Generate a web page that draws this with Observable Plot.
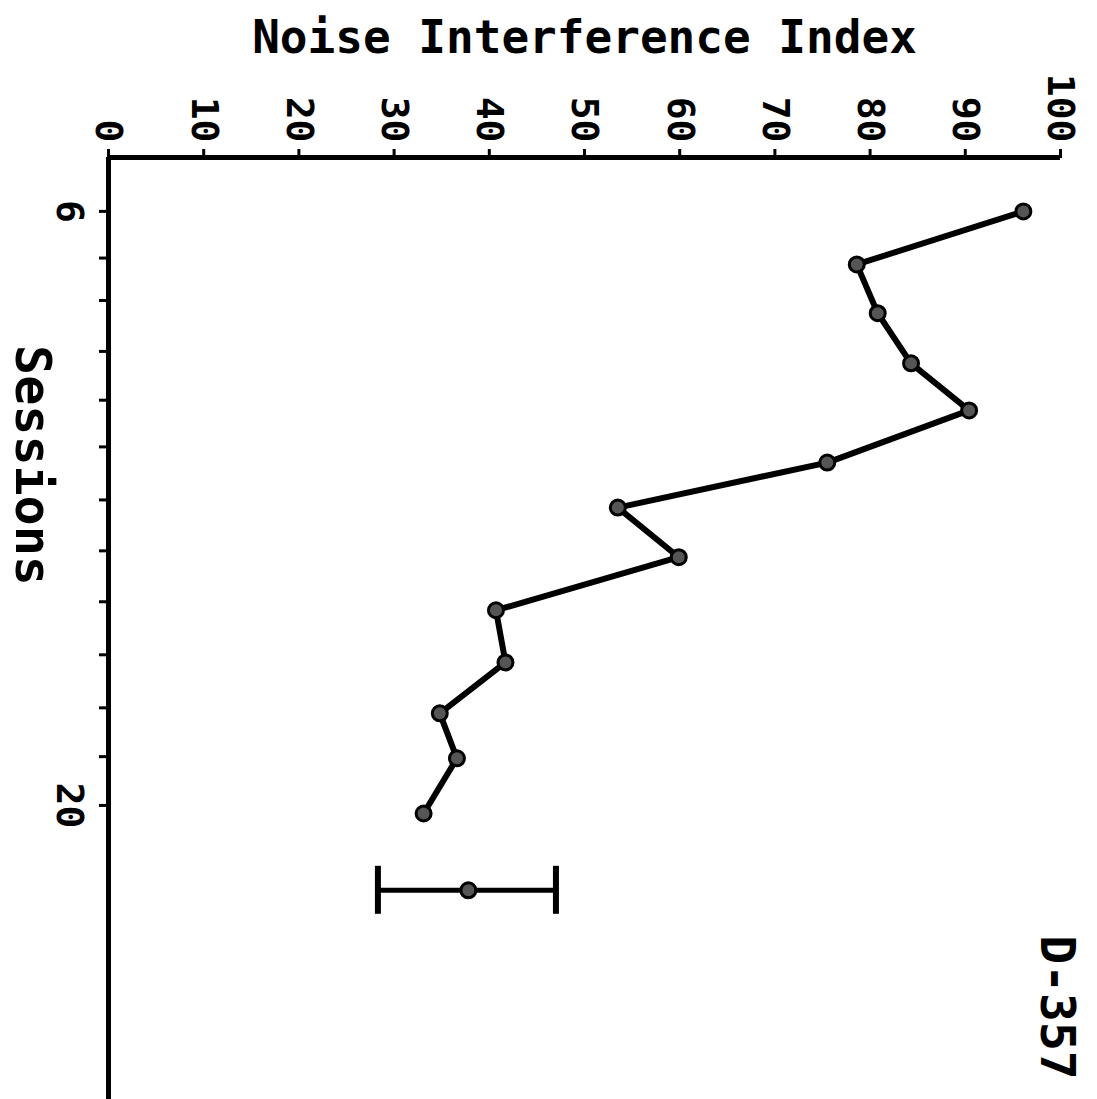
<!DOCTYPE html>
<html><head><meta charset="utf-8">
<script src="https://cdn.jsdelivr.net/npm/d3@7"></script>
<script src="https://cdn.jsdelivr.net/npm/@observablehq/plot@0.6"></script>
<style>body{margin:0;background:#fff} svg{display:block}</style>
</head><body><div id="chart"></div>
<script>
// Data read from the (rotated) reference
const sessions   = [6, 7.25, 8.4, 9.58, 10.69, 11.92, 12.98, 14.15, 15.4, 16.63, 17.83, 18.89, 20.19];
const noiseIndex = [96.1, 78.6, 80.8, 84.3, 90.4, 75.5, 53.5, 59.9, 40.7, 41.7, 34.8, 36.6, 33.1];
const sessionTicks = [6, 7.1, 8.1, 9.3, 10.45, 11.55, 12.8, 14.0, 15.2, 16.45, 17.7, 18.85, 20];
const sessionTickLabels = {6: "6", 20: "20"};
const indexTicks = [0, 10, 20, 30, 40, 50, 60, 70, 80, 90, 100];
const errSession = [22.0];
const errMean = [37.8];
const errLow = [28.3];
const errHigh = [47.0];
const titleText = "Noise Interference Index";
const sessionsLabel = "Sessions";
const panelLabel = "D-357";
const sessionDomain = [4.73, 26.93];

const data = sessions.map((s, i) => ({session: s, value: noiseIndex[i]}));
const err = errSession.map((s, i) => ({session: s, mean: errMean[i], lo: errLow[i], hi: errHigh[i]}));

const font = "'DejaVu Sans Mono', monospace";
const chart = Plot.plot({
  width: 1097, height: 1099,
  marginLeft: 108, marginRight: 37, marginTop: 157, marginBottom: 0,
  style: {fontFamily: font, fontWeight: "bold", background: "#fff", color: "#000"},
  x: {domain: [0, 100], axis: null},
  y: {domain: sessionDomain, reverse: true, axis: null},
  marks: [
    Plot.ruleX([0], {stroke: "#000", strokeWidth: 5}),
    Plot.ruleY([sessionDomain[0]], {stroke: "#000", strokeWidth: 5}),
    Plot.axisX(indexTicks, {anchor: "top", label: null, tickSize: 9, tickPadding: 6, tickRotate: 90, fontSize: 38, strokeWidth: 3}),
    Plot.axisY(sessionTicks, {anchor: "left", label: null, tickSize: 9, tickPadding: 16, tickRotate: 90, fontSize: 38, strokeWidth: 3,
      tickFormat: d => sessionTickLabels[d] ?? ""}),
    Plot.line(data, {x: "value", y: "session", stroke: "#000", strokeWidth: 6, strokeLinejoin: "round"}),
    Plot.dot(data, {x: "value", y: "session", r: 7.5, fill: "#555", stroke: "#000", strokeWidth: 3}),
    Plot.ruleY(err, {y: "session", x1: "lo", x2: "hi", stroke: "#000", strokeWidth: 5}),
    Plot.ruleX(err, {x: "lo", y1: "session", y2: "session", insetTop: -24, insetBottom: -24, stroke: "#000", strokeWidth: 6}),
    Plot.ruleX(err, {x: "hi", y1: "session", y2: "session", insetTop: -24, insetBottom: -24, stroke: "#000", strokeWidth: 6}),
    Plot.dot(err, {x: "mean", y: "session", r: 7.5, fill: "#555", stroke: "#000", strokeWidth: 3}),
    Plot.text([titleText], {frameAnchor: "top", dy: -137, lineAnchor: "top", textAnchor: "middle", fontSize: 46, fontWeight: "bold"}),
    Plot.text([sessionsLabel], {frameAnchor: "top-left", dx: -77, dy: 308, rotate: 90, textAnchor: "middle", lineAnchor: "middle", fontSize: 50, fontWeight: "bold"}),
    Plot.text([panelLabel], {frameAnchor: "bottom-right", dx: -4, dy: -92, rotate: 90, textAnchor: "middle", lineAnchor: "middle", fontSize: 48, fontWeight: "bold"})
  ]
});
document.getElementById("chart").appendChild(chart);
</script>
</body></html>
